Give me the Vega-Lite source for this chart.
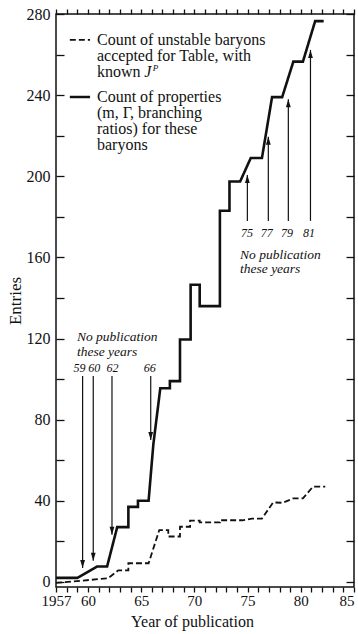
{
  "$schema": "https://vega.github.io/schema/vega-lite/v6.json",
  "width": 298,
  "height": 573,
  "autosize": {"type": "none"},
  "padding": {"left": 56, "top": 14, "right": 4, "bottom": 47},
  "background": "white",
  "config": {
    "view": {"stroke": "#111", "strokeWidth": 1.5},
    "font": "Liberation Serif",
    "axis": {"domain": false, "grid": false, "labelColor": "#111", "titleColor": "#111", "labelFont": "Liberation Serif", "titleFont": "Liberation Serif", "titleFontWeight": "normal", "labelOverlap": false, "labelFlush": false}
  },
  "datasets": {
    "lines": [
      {"series": "properties", "i": 0, "year": 1957.0, "entries": 2},
      {"series": "properties", "i": 1, "year": 1959.0, "entries": 2},
      {"series": "properties", "i": 2, "year": 1960.85, "entries": 7.6},
      {"series": "properties", "i": 3, "year": 1961.8, "entries": 7.6},
      {"series": "properties", "i": 4, "year": 1962.75, "entries": 27},
      {"series": "properties", "i": 5, "year": 1963.8, "entries": 27},
      {"series": "properties", "i": 6, "year": 1963.8, "entries": 37},
      {"series": "properties", "i": 7, "year": 1964.7, "entries": 37},
      {"series": "properties", "i": 8, "year": 1964.7, "entries": 40},
      {"series": "properties", "i": 9, "year": 1965.7, "entries": 40},
      {"series": "properties", "i": 10, "year": 1966.15, "entries": 68},
      {"series": "properties", "i": 11, "year": 1966.8, "entries": 95.5},
      {"series": "properties", "i": 12, "year": 1967.7, "entries": 95.5},
      {"series": "properties", "i": 13, "year": 1967.7, "entries": 99},
      {"series": "properties", "i": 14, "year": 1968.65, "entries": 99},
      {"series": "properties", "i": 15, "year": 1968.65, "entries": 119.5},
      {"series": "properties", "i": 16, "year": 1969.65, "entries": 119.5},
      {"series": "properties", "i": 17, "year": 1969.65, "entries": 146.5},
      {"series": "properties", "i": 18, "year": 1970.5, "entries": 146.5},
      {"series": "properties", "i": 19, "year": 1970.5, "entries": 136},
      {"series": "properties", "i": 20, "year": 1972.4, "entries": 136},
      {"series": "properties", "i": 21, "year": 1972.4, "entries": 183},
      {"series": "properties", "i": 22, "year": 1973.3, "entries": 183},
      {"series": "properties", "i": 23, "year": 1973.3, "entries": 197.4},
      {"series": "properties", "i": 24, "year": 1974.3, "entries": 197.4},
      {"series": "properties", "i": 25, "year": 1975.3, "entries": 209},
      {"series": "properties", "i": 26, "year": 1976.35, "entries": 209},
      {"series": "properties", "i": 27, "year": 1977.3, "entries": 239},
      {"series": "properties", "i": 28, "year": 1978.25, "entries": 239},
      {"series": "properties", "i": 29, "year": 1979.3, "entries": 256.5},
      {"series": "properties", "i": 30, "year": 1980.2, "entries": 256.5},
      {"series": "properties", "i": 31, "year": 1981.35, "entries": 276.5},
      {"series": "properties", "i": 32, "year": 1982.15, "entries": 276.5},
      {"series": "baryons", "i": 0, "year": 1957.0, "entries": -0.5},
      {"series": "baryons", "i": 1, "year": 1961.9, "entries": 1.8},
      {"series": "baryons", "i": 2, "year": 1962.85, "entries": 5.7},
      {"series": "baryons", "i": 3, "year": 1963.8, "entries": 5.7},
      {"series": "baryons", "i": 4, "year": 1963.8, "entries": 9.2},
      {"series": "baryons", "i": 5, "year": 1965.7, "entries": 9.2},
      {"series": "baryons", "i": 6, "year": 1966.7, "entries": 25.5},
      {"series": "baryons", "i": 7, "year": 1967.55, "entries": 25.5},
      {"series": "baryons", "i": 8, "year": 1967.55, "entries": 22.4},
      {"series": "baryons", "i": 9, "year": 1968.65, "entries": 22.4},
      {"series": "baryons", "i": 10, "year": 1968.65, "entries": 27.2},
      {"series": "baryons", "i": 11, "year": 1969.6, "entries": 27.2},
      {"series": "baryons", "i": 12, "year": 1969.6, "entries": 30.2},
      {"series": "baryons", "i": 13, "year": 1970.5, "entries": 30.2},
      {"series": "baryons", "i": 14, "year": 1970.5, "entries": 29.4},
      {"series": "baryons", "i": 15, "year": 1972.4, "entries": 29.4},
      {"series": "baryons", "i": 16, "year": 1972.4, "entries": 30.4},
      {"series": "baryons", "i": 17, "year": 1974.5, "entries": 30.4},
      {"series": "baryons", "i": 18, "year": 1975.4, "entries": 31.2},
      {"series": "baryons", "i": 19, "year": 1976.35, "entries": 31.2},
      {"series": "baryons", "i": 20, "year": 1977.4, "entries": 39.2},
      {"series": "baryons", "i": 21, "year": 1978.3, "entries": 39},
      {"series": "baryons", "i": 22, "year": 1979.3, "entries": 41.2},
      {"series": "baryons", "i": 23, "year": 1980.2, "entries": 41.2},
      {"series": "baryons", "i": 24, "year": 1981.15, "entries": 47},
      {"series": "baryons", "i": 25, "year": 1982.3, "entries": 47}
    ],
    "arrows": [
      {"label": "59", "year": 1959.5, "from": 101.5, "to": 6.9, "dir": "down", "labelYear": 1959.2, "labelAt": 105.5},
      {"label": "60", "year": 1960.5, "from": 101.5, "to": 10.4, "dir": "down", "labelYear": 1960.6, "labelAt": 105.5},
      {"label": "62", "year": 1962.26, "from": 101.5, "to": 23.2, "dir": "down", "labelYear": 1962.3, "labelAt": 105.5},
      {"label": "66", "year": 1965.9, "from": 101.5, "to": 70, "dir": "down", "labelYear": 1965.8, "labelAt": 105.5},
      {"label": "75", "year": 1974.98, "from": 178, "to": 200.6, "dir": "up", "labelYear": 1974.95, "labelAt": 171.9},
      {"label": "77", "year": 1976.95, "from": 178, "to": 219.5, "dir": "up", "labelYear": 1976.8, "labelAt": 171.9},
      {"label": "79", "year": 1978.83, "from": 178, "to": 238, "dir": "up", "labelYear": 1978.7, "labelAt": 171.9},
      {"label": "81", "year": 1980.91, "from": 178, "to": 262.3, "dir": "up", "labelYear": 1980.77, "labelAt": 171.9}
    ],
    "notes": [
      {"text": "No publication", "year": 1958.97, "entries": 120.8},
      {"text": "these years", "year": 1958.97, "entries": 113.4},
      {"text": "No publication", "year": 1974.29, "entries": 161.0},
      {"text": "these years", "year": 1974.29, "entries": 154.2}
    ],
    "legendText": [
      {"text": "Count of unstable baryons", "year": 1960.85, "entries": 267.2},
      {"text": "accepted for Table, with", "year": 1960.85, "entries": 259.3},
      {"text": "known", "year": 1960.85, "entries": 251.4},
      {"text": "Count of properties", "year": 1960.85, "entries": 239.1},
      {"text": "(m, Γ, branching", "year": 1960.85, "entries": 231.2},
      {"text": "ratios) for these", "year": 1960.85, "entries": 223.1},
      {"text": "baryons", "year": 1960.85, "entries": 215.4}
    ],
    "legendJ": [{"text": "J", "year": 1965.3, "entries": 251.4}],
    "legendP": [{"text": "P", "year": 1966.1, "entries": 253.6}],
    "legendLines": [
      {"series": "baryons", "year": 1958.3, "year2": 1960.2, "entries": 267.2},
      {"series": "properties", "year": 1958.3, "year2": 1960.2, "entries": 239.1}
    ]
  },
  "resolve": {"axis": {"x": "independent", "y": "independent"}},
  "layer": [
    {
      "data": {"name": "lines"},
      "mark": {"type": "line", "color": "#111", "strokeCap": "butt", "strokeJoin": "miter"},
      "encoding": {
        "x": {"field": "year", "type": "quantitative", "scale": {"domain": [1957, 1985], "nice": false, "zero": false},
          "axis": {"orient": "bottom", "values": [1957,1958,1959,1960,1961,1962,1963,1964,1965,1966,1967,1968,1969,1970,1971,1972,1973,1974,1975,1976,1977,1978,1979,1980,1981,1982,1983,1984,1985],
            "labelExpr": "datum.value == 1957 ? '1957' : (datum.value % 5 == 0 ? substring(toString(datum.value), 2, 4) : '')",
            "labelAlign": {"expr": "datum.value == 1985 ? 'right' : 'center'"},
            "ticks": true, "tickColor": "#111", "tickWidth": 1.3, "tickSize": 5,
            "labelPadding": 1, "labelFontSize": 15, "title": "Year of publication", "titleFontSize": 16, "titlePadding": 5, "titleX": 136}},
        "y": {"field": "entries", "type": "quantitative", "scale": {"domain": [-2.5, 280], "nice": false, "zero": false},
          "axis": {"orient": "left", "values": [0,20,40,60,80,100,120,140,160,180,200,220,240,260,280],
            "labelExpr": "datum.value % 40 == 0 ? datum.label : ''",
            "ticks": true, "tickColor": "#111", "tickWidth": 1.3, "tickSize": 8, "offset": -8,
            "labelPadding": 6, "labelFontSize": 16, "title": "Entries", "titleFontSize": 17, "titlePadding": 2}},
        "strokeDash": {"field": "series", "type": "nominal", "scale": {"domain": ["baryons", "properties"], "range": [[6, 3], [1, 0]]}, "legend": null},
        "strokeWidth": {"field": "series", "type": "nominal", "scale": {"domain": ["baryons", "properties"], "range": [1.8, 2.6]}, "legend": null},
        "order": {"field": "i", "type": "quantitative"}
      }
    },
    {
      "data": {"name": "arrows"},
      "mark": {"type": "rule", "color": "#111", "strokeWidth": 1.2},
      "encoding": {
        "x": {"field": "year", "type": "quantitative",
          "axis": {"orient": "top", "values": [1957,1958,1959,1960,1961,1962,1963,1964,1965,1966,1967,1968,1969,1970,1971,1972,1973,1974,1975,1976,1977,1978,1979,1980,1981,1982,1983,1984,1985], "labels": false, "ticks": true, "tickColor": "#111", "tickWidth": 1.3, "tickSize": 5, "title": null}},
        "y": {"field": "from", "type": "quantitative",
          "axis": {"orient": "right", "values": [0,20,40,60,80,100,120,140,160,180,200,220,240,260,280], "labels": false, "ticks": true, "tickColor": "#111", "tickWidth": 1.3, "offset": -8, "tickSize": 8, "title": null}},
        "y2": {"field": "to"}
      }
    },
    {
      "data": {"name": "arrows"},
      "mark": {"type": "point", "filled": true, "color": "#111", "opacity": 1, "size": 64, "strokeWidth": 0},
      "encoding": {
        "x": {"field": "year", "type": "quantitative", "axis": null},
        "y": {"field": "to", "type": "quantitative", "axis": null},
        "shape": {"field": "dir", "type": "nominal", "scale": {"domain": ["down", "up"], "range": ["M0,0L-0.6,-2L0.6,-2Z", "M0,0L-0.6,2L0.6,2Z"]}, "legend": null}
      }
    },
    {
      "data": {"name": "arrows"},
      "mark": {"type": "text", "font": "Liberation Serif", "fontStyle": "italic", "fontSize": 12, "align": "center", "baseline": "middle", "color": "#111"},
      "encoding": {
        "x": {"field": "labelYear", "type": "quantitative", "axis": null},
        "y": {"field": "labelAt", "type": "quantitative", "axis": null},
        "text": {"field": "label"}
      }
    },
    {
      "data": {"name": "notes"},
      "mark": {"type": "text", "font": "Liberation Serif", "fontStyle": "italic", "fontSize": 13.5, "align": "left", "baseline": "middle", "color": "#111"},
      "encoding": {
        "x": {"field": "year", "type": "quantitative", "axis": null},
        "y": {"field": "entries", "type": "quantitative", "axis": null},
        "text": {"field": "text"}
      }
    },
    {
      "data": {"name": "legendText"},
      "mark": {"type": "text", "font": "Liberation Serif", "fontSize": 16, "align": "left", "baseline": "middle", "color": "#111"},
      "encoding": {
        "x": {"field": "year", "type": "quantitative", "axis": null},
        "y": {"field": "entries", "type": "quantitative", "axis": null},
        "text": {"field": "text"}
      }
    },
    {
      "data": {"name": "legendJ"},
      "mark": {"type": "text", "font": "Liberation Serif", "fontStyle": "italic", "fontSize": 16, "align": "left", "baseline": "middle", "color": "#111"},
      "encoding": {
        "x": {"field": "year", "type": "quantitative", "axis": null},
        "y": {"field": "entries", "type": "quantitative", "axis": null},
        "text": {"field": "text"}
      }
    },
    {
      "data": {"name": "legendP"},
      "mark": {"type": "text", "font": "Liberation Serif", "fontStyle": "italic", "fontSize": 9, "align": "left", "baseline": "middle", "color": "#111"},
      "encoding": {
        "x": {"field": "year", "type": "quantitative", "axis": null},
        "y": {"field": "entries", "type": "quantitative", "axis": null},
        "text": {"field": "text"}
      }
    },
    {
      "data": {"name": "legendLines"},
      "mark": {"type": "rule", "color": "#111", "strokeCap": "butt"},
      "encoding": {
        "x": {"field": "year", "type": "quantitative", "axis": null},
        "x2": {"field": "year2"},
        "y": {"field": "entries", "type": "quantitative", "axis": null},
        "strokeDash": {"field": "series", "type": "nominal", "legend": null},
        "strokeWidth": {"field": "series", "type": "nominal", "legend": null}
      }
    }
  ]
}
